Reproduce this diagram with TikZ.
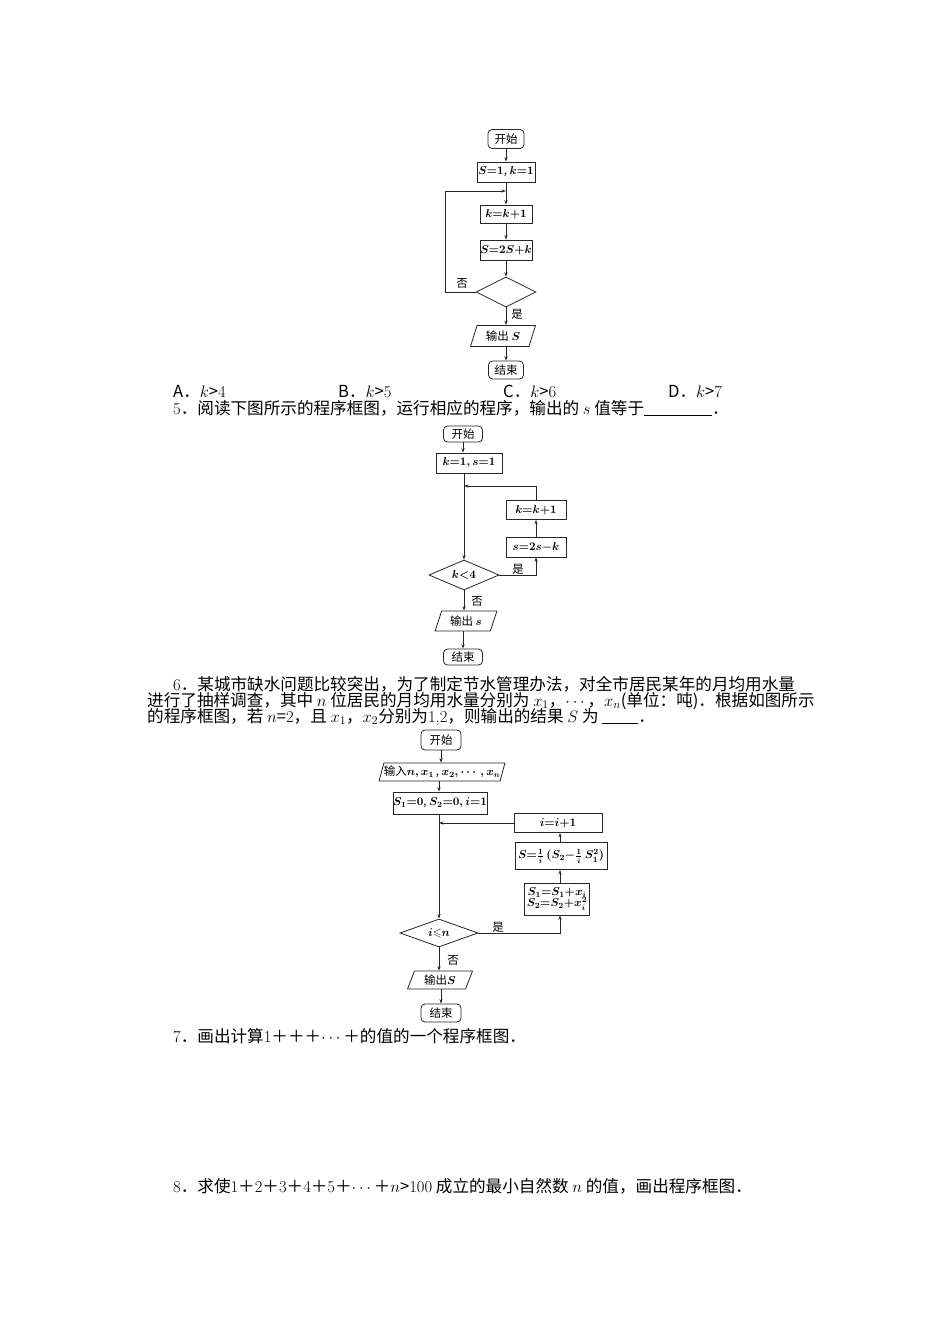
\documentclass[tikz,border=0pt]{standalone}
\usepackage{fix-cm}
\usepackage{amsmath,amssymb}
\usepackage{fontspec}
\newfontfamily\cjk{Noto Sans CJK SC}
\usetikzlibrary{shapes.geometric,arrows.meta}
\newcommand\flfont{\cjk\boldmath\fontsize{11.5}{13}\selectfont\thickmuskip=0mu\medmuskip=0mu}
\newcommand\txfont{\cjk\fontsize{16.6}{17}\selectfont}
\tikzset{
  ln/.style={draw=black!85, line width=0.8pt},
  arr/.style={ln, -{Stealth[length=4.5pt,width=3.2pt]}},
  term/.style={ln, rectangle, rounded corners=4pt, inner sep=0pt, font=\flfont},
  proc/.style={ln, rectangle, inner sep=0pt, font=\flfont, align=center},
  io/.style={ln, trapezium, trapezium left angle=68, trapezium right angle=112,
    trapezium stretches=true, inner sep=0pt, font=\flfont},
  dec/.style={ln, diamond, inner sep=0pt, aspect=2, font=\flfont},
  lbl/.style={inner sep=0pt, font=\flfont},
  txt/.style={anchor=base west, inner sep=0pt, font=\txfont}
}
\begin{document}
\begin{tikzpicture}[x=1pt,y=-1pt]
\useasboundingbox (0,0) rectangle (950,1344);
\fill[white] (0,0) rectangle (950,1344);

% ---------------- flowchart 1
\node[term, minimum width=36, minimum height=19] (s1) at (506,139) {开始};
\node[proc, minimum width=58, minimum height=20] (i1) at (506,172) {$S=1$, $k=1$};
\node[proc, minimum width=52, minimum height=18] (k1) at (506,214) {$k=k+1$};
\node[proc, minimum width=52, minimum height=20] (c1) at (506,250) {$S=2S+k$};
\node[dec, minimum width=60, minimum height=30] (d1) at (506,292) {};
\node[io, minimum width=65, minimum height=21] (o1) at (503,336) {输出 $S$};
\node[term, minimum width=35, minimum height=18] (e1) at (506,370) {结束};
\coordinate (j1) at (506,191);
\coordinate (l1a) at (445,292);
\coordinate (l1b) at (445,191);
\draw[arr] (s1) -- (i1);
\draw[arr] (i1) -- (k1);
\draw[arr] (k1) -- (c1);
\draw[arr] (c1) -- (d1);
\draw[arr] (d1.south) -- (d1.south |- o1.north);
\draw[arr] (e1.north |- o1.south) -- (e1);
\draw[ln] (d1.west) -- (l1a) -- (l1b);
\draw[arr] (l1b) -- (j1);
\node[lbl] (n1) at (462,283) {否};
\node[lbl] (y1) at (517,314) {是};

% choices
\node[txt] (ca) at (173,397) {A．$k$>\textrm{4}};
\node[txt] (cb) at (338,397) {B．$k$>\textrm{5}};
\node[txt] (cc) at (503,397) {C．$k$>\textrm{6}};
\node[txt] (cd) at (668,397) {D．$k$>\textrm{7}};
\node[txt] (q5) at (173,414) {\textrm{5}．阅读下图所示的程序框图，运行相应的程序，输出的 $s$ 值等于\rule[-2pt]{68pt}{0.6pt}．};

% ---------------- flowchart 2
\node[term, minimum width=39, minimum height=16] (s2) at (463,434) {开始};
\node[proc, minimum width=66, minimum height=20] (i2) at (469,463) {$k=1,s=1$};
\node[proc, minimum width=60, minimum height=19] (k2) at (536,510) {$k=k+1$};
\node[proc, minimum width=60, minimum height=20] (c2) at (536,547) {$s=2s-k$};
\node[dec, minimum width=70, minimum height=30] (d2) at (464,575) {$k<4$};
\node[io, minimum width=62, minimum height=20] (o2) at (466,621) {输出 $s$};
\node[term, minimum width=39, minimum height=16] (e2) at (463,657) {结束};
\coordinate (j2) at (464,486);
\draw[arr] (s2.south) -- (s2.south |- i2.north);
\draw[arr] (d2.north |- i2.south) -- (d2.north);
\draw[arr] (d2.south) -- (d2.south |- o2.north);
\draw[arr] (e2.north |- o2.south) -- (e2.north);
\draw[arr] (c2) -- (k2);
\draw[ln] (k2.north) -- (k2.north |- j2);
\draw[arr] (k2.north |- j2) -- (j2);
\draw[arr] (d2.east) -- (d2.east -| c2.south) -- (c2.south);
\node[lbl] (y2) at (518,569) {是};
\node[lbl] (n2) at (477,601) {否};

% question 6
\node[txt] (q6a) at (173,690) {\textrm{6}．某城市缺水问题比较突出，为了制定节水管理办法，对全市居民某年的月均用水量};
\node[txt] (q6b) at (147,706) {进行了抽样调查，其中 $n$ 位居民的月均用水量分别为 $x_1$，$\cdots$，$x_n$(单位：吨)．根据如图所示};
\node[txt] (q6c) at (147,722) {的程序框图，若 $n$=\textrm{2}，且 $x_1$，$x_2$分别为\textrm{1,2}，则输出的结果 $S$ 为 \rule[-2pt]{36pt}{0.6pt}．};

% ---------------- flowchart 3
\node[term, minimum width=40, minimum height=20] (s3) at (441,740) {开始};
\node[io, minimum width=120, minimum height=18] (n3) at (442,772) {输入$n,x_1$\,, $x_2,\cdots,x_n$};
\node[proc, minimum width=90, minimum height=22] (i3) at (440,803) {$S_1=0$, $S_2=0,i=1$};
\node[proc, minimum width=88, minimum height=19] (k3) at (558,823) {$i=i+1$};
\node[proc, minimum width=92, minimum height=27] (c3) at (561,856) {$S=\frac{1}{i}\;\,(S_2-\frac{1}{i}\,S_1^2)$};
\node[proc, minimum width=65, minimum height=32] (u3) at (557,899) {$S_1=S_1+x_i$\\[-2pt]$S_2=S_2+x_i^2$};
\node[dec, minimum width=78, minimum height=28] (d3) at (439,933) {$i\leqslant n$};
\node[io, minimum width=65, minimum height=18] (o3) at (440,980) {输出$S$};
\node[term, minimum width=40, minimum height=18] (e3) at (441,1013) {结束};
\coordinate (j3) at (439,823);
\coordinate (r3) at (560,933);
\draw[arr] (s3.south) -- (s3.south |- n3.north);
\draw[arr] (d3.north |- n3.south) -- (d3.north |- i3.north);
\draw[arr] (d3.north |- i3.south) -- (d3.north);
\draw[arr] (d3.south) -- (d3.south |- o3.north);
\draw[arr] (e3.north |- o3.south) -- (e3.north);
\draw[arr] (k3.west) -- (j3);
\draw[arr] (r3 |- c3.north) -- (r3 |- k3.south);
\draw[arr] (r3 |- u3.north) -- (r3 |- c3.south);
\draw[arr] (d3.east) -- (r3) -- (r3 |- u3.south);
\node[lbl] (y3) at (498,927) {是};
\node[lbl] (n3l) at (453,960) {否};

% questions 7, 8
\node[txt] (q7) at (173,1042) {\textrm{7}．画出计算\textrm{1}＋＋＋$\cdots$＋的值的一个程序框图．};
\node[txt] (q8) at (173,1192) {\textrm{8}．求使\textrm{1}＋\textrm{2}＋\textrm{3}＋\textrm{4}＋\textrm{5}＋$\cdots$＋$n$>\textrm{100} 成立的最小自然数 $n$ 的值，画出程序框图．};
\end{tikzpicture}
\end{document}
